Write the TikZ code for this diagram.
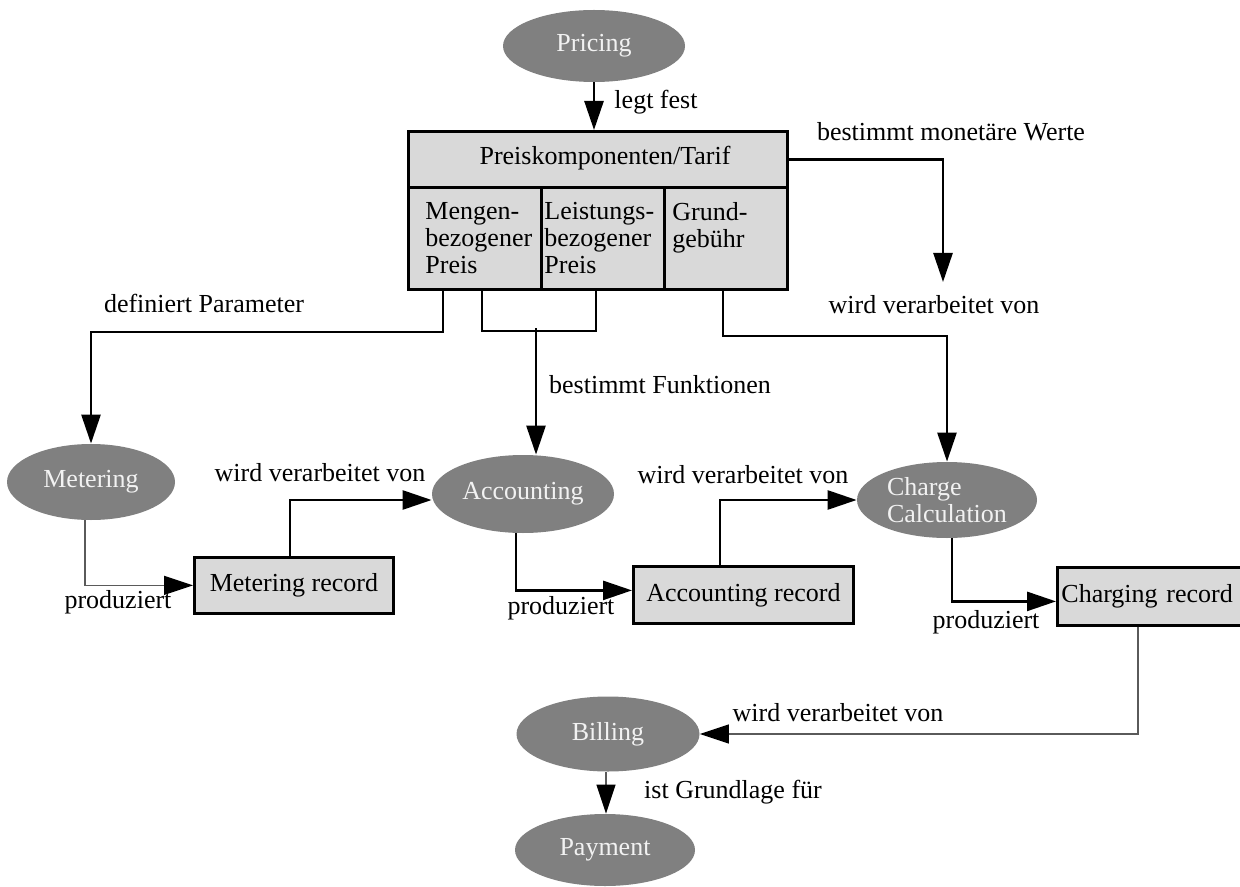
\documentclass[tikz,border=0pt]{standalone}
\usepackage{fontspec}
\setmainfont{Liberation Serif}
\usetikzlibrary{shapes.geometric,arrows.meta,calc}
\definecolor{procgray}{HTML}{808080}
\definecolor{boxgray}{HTML}{D9D9D9}
\definecolor{thingray}{HTML}{5A5A5A}
\definecolor{proctext}{HTML}{F2F2F2}
\begin{document}
\begin{tikzpicture}[x=0.5pt,y=-0.5pt,
  font=\fontsize{13}{13.5}\selectfont,
  process/.style={ellipse, fill=procgray, text=proctext, inner sep=0pt, align=left},
  recbox/.style={rectangle, draw=black, line width=1.4pt, fill=boxgray, inner sep=0pt, anchor=north west},
  flow/.style={line width=1.3pt, -{Triangle[length=14.5pt,width=9.5pt]}},
  thinflow/.style={line width=0.6pt, draw=thingray, -{Triangle[length=14.5pt,width=9.5pt,color=black]}},
  plainline/.style={line width=1.3pt},
  lbl/.style={inner sep=0pt},
]
\useasboundingbox (0,0) rectangle (1240,887);

% processes
\node[process, minimum width=91pt, minimum height=36pt] (pricing) at (594,46) {Pricing};
\node[process, minimum width=84pt, minimum height=38pt] (metering) at (91,482) {Metering};
\node[process, minimum width=91pt, minimum height=39pt] (accounting) at (523,494) {Accounting};
\node[process, minimum width=90pt, minimum height=38pt] (charge) at (947,500) {Charge\\Calculation};
\node[process, minimum width=91.5pt, minimum height=37.5pt] (billing) at (608,734) {Billing};
\node[process, minimum width=90pt, minimum height=36pt] (payment) at (605,850) {Payment};

% price components / tariff table
\node[recbox, minimum width=189.5pt, minimum height=28pt] (head) at (407,130) {};
\node[recbox, minimum width=66.5pt, minimum height=51pt] (colA) at (407,186) {};
\node[recbox, minimum width=61.5pt, minimum height=51pt] (colB) at (540,186) {};
\node[recbox, minimum width=61.5pt, minimum height=51pt] (colC) at (663,186) {};
\node[lbl] (headtext) at (605,158) {Preiskomponenten/Tarif};
\node[lbl, anchor=north west, align=left] (txtA) at (425,202) {Mengen-\\bezogener\\Preis};
\node[lbl, anchor=north west, align=left] (txtB) at (544,202) {Leistungs-\\bezogener\\Preis};
\node[lbl, anchor=north west, align=left] (txtC) at (672,202) {Grund-\\gebühr};

% records
\node[recbox, minimum width=99.5pt, minimum height=28pt] (mrec) at (193,556) {Metering record};
\node[recbox, minimum width=110pt, minimum height=28.5pt] (arec) at (632,565) {Accounting record};
\node[recbox, text width=93pt, inner xsep=2pt, align=left, minimum height=29pt] (crec) at (1056,566) {Charging record};

% connectors
\draw[flow] (pricing.south) -- (pricing.south |- head.north);

\coordinate (valEnd) at (943,282);
\draw[flow] (head.east) -| (valEnd);

\draw[flow] ([xshift=18pt]colA.south west) -- ++(0,41) -| (metering.north);

\draw[plainline] ([xshift=37.5pt]colA.south west) -- ++(0,40) -| ([xshift=28pt]colB.south west);
\coordinate (fork) at (536,328);
\draw[flow] (fork) -- (fork |- accounting.north);

\draw[flow] ([xshift=30pt]colC.south west) -- ++(0,45) -| (charge.north);

\draw[thinflow] ([xshift=-3pt]metering.south) |- (mrec.west);
\draw[flow] ([xshift=48.5pt]mrec.north west) |- ([yshift=-3pt]accounting.west);

\draw[flow] ([xshift=-3.5pt]accounting.south) |- ([yshift=2.25pt]arec.west);
\draw[flow] ([xshift=44pt]arec.north west) |- (charge.west);

\draw[flow] ([xshift=2.5pt]charge.south) |- ([yshift=-2.5pt]crec.west);
\draw[thinflow] ([xshift=41pt]crec.south west) |- (billing.east);

\draw[thinflow] ([xshift=-1pt]billing.south) -- ([xshift=-1pt]billing.south |- payment.north);

% connector labels
\node[lbl] (lLegt) at (656,102) {legt fest};
\node[lbl] (lWerte) at (951,132) {bestimmt monetäre Werte};
\node[lbl] (lVerarb1) at (934,305) {wird verarbeitet von};
\node[lbl] (lParam) at (204,303) {definiert Parameter};
\node[lbl] (lFunk) at (660,385) {bestimmt Funktionen};
\node[lbl] (lVerarb2) at (320,473) {wird verarbeitet von};
\node[lbl] (lProd1) at (118,602) {produziert};
\node[lbl] (lVerarb3) at (743,475) {wird verarbeitet von};
\node[lbl] (lProd2) at (561,608) {produziert};
\node[lbl] (lProd3) at (986,622) {produziert};
\node[lbl] (lVerarb4) at (838,713) {wird verarbeitet von};
\node[lbl] (lGrund) at (733,792) {ist Grundlage für};
\end{tikzpicture}
\end{document}
